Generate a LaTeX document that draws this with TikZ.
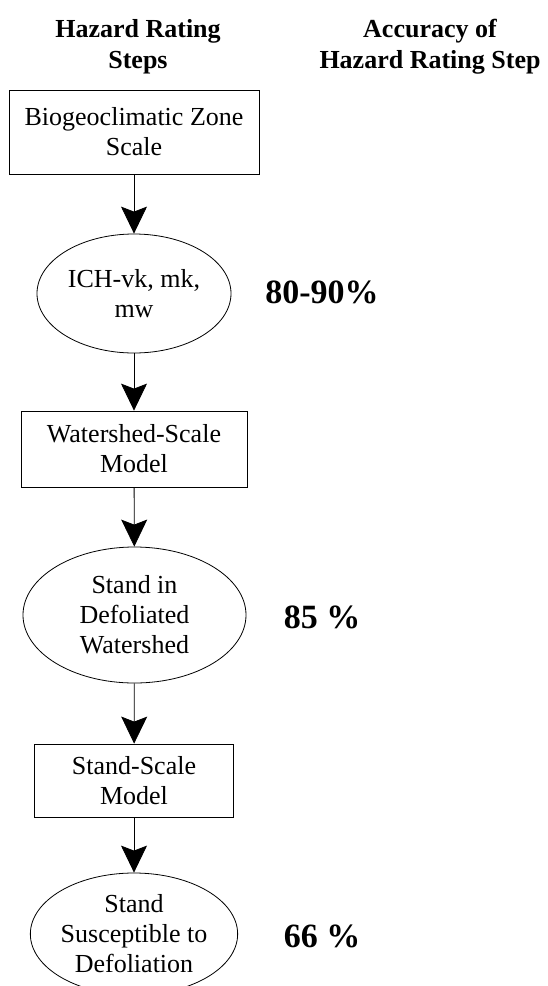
\documentclass[tikz,border=0pt]{standalone}
\usepackage{fontspec}
\setmainfont{Liberation Serif}
\usetikzlibrary{shapes.geometric,arrows.meta}

\tikzset{
  stepbox/.style={draw, line width=0.8pt, rectangle, inner sep=0pt, align=center,
    font=\fontsize{26}{30}\selectfont},
  stepoval/.style={draw, line width=0.8pt, ellipse, inner sep=0pt, align=center,
    font=\fontsize{26}{30}\selectfont},
  header/.style={align=center, font=\fontsize{26}{31}\selectfont\bfseries},
  pct/.style={font=\fontsize{34}{38}\selectfont\bfseries},
  flow/.style={line width=0.8pt, -{Stealth[length=27pt, width=26pt, inset=5pt]}}
}

\begin{document}
\begin{tikzpicture}[x=1pt, y=-1pt]
  \useasboundingbox (0,0) rectangle (548,986);
  \clip (0,0) rectangle (548,986);

  % column headings
  \node[header] (hsteps) at (138,47) {Hazard Rating\\Steps};
  \node[header] (hacc) at (430,47) {Accuracy of\\Hazard Rating Step};

  % hazard rating steps
  \node[stepbox, minimum width=250pt, minimum height=84pt] (zone) at (134,132)
    {Biogeoclimatic Zone\\Scale};
  \node[stepoval, minimum width=194pt, minimum height=119pt] (ich) at (134,293.5)
    {ICH-vk, mk,\\mw};
  \node[stepbox, minimum width=226pt, minimum height=76pt] (wsmodel) at (134,449)
    {Watershed-Scale\\Model};
  \node[stepoval, minimum width=223pt, minimum height=136pt] (defol) at (134.5,615)
    {Stand in\\Defoliated\\Watershed};
  \node[stepbox, minimum width=199pt, minimum height=73pt] (stmodel) at (134,780.5)
    {Stand-Scale\\Model};
  \node[stepoval, minimum width=196pt, minimum height=122pt] (suscept) at (134,934)
    {Stand\\Susceptible to\\Defoliation};

  % accuracy of each step
  \node[pct] (a1) at (322,292) {80-90\%};
  \node[pct] (a2) at (322,617) {85 \%};
  \node[pct] (a3) at (322,936) {66 \%};

  % connectors
  \draw[flow] (zone) -- (ich);
  \draw[flow] (ich) -- (wsmodel);
  \draw[flow] (wsmodel) -- (defol);
  \draw[flow] (defol) -- (stmodel);
  \draw[flow] (stmodel) -- (suscept);
\end{tikzpicture}
\end{document}
